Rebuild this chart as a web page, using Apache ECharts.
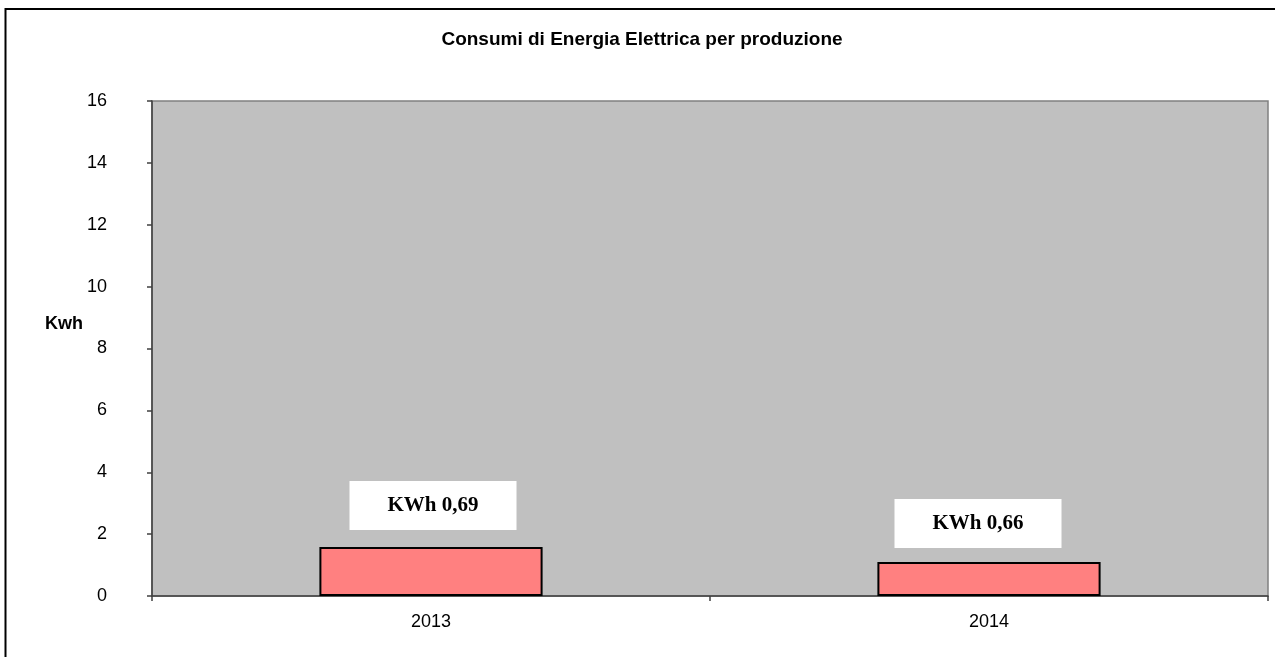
<!DOCTYPE html>
<html>
<head>
<meta charset="utf-8">
<script src="https://cdn.jsdelivr.net/npm/echarts@6/dist/echarts.min.js"></script>
<style>
  html, body { margin: 0; padding: 0; background: #fff; }
  #chart { width: 1275px; height: 657px; }
</style>
</head>
<body>
<div id="chart"></div>
<script>
const years = ['2013', '2014']
const consumi = [1.58, 1.1]
const etichette = ['KWh 0,69', 'KWh 0,66']
const labelOffsets = [[2, 0], [-11, 0]]
const labelDistances = [17, 14]

const sans = '"Liberation Sans", Arial, sans-serif'
const serif = '"Liberation Serif", "Times New Roman", serif'

const chart = echarts.init(document.getElementById('chart'))

chart.setOption({
  animation: false,
  title: {
    text: 'Consumi di Energia Elettrica per produzione',
    left: 637,
    textAlign: 'center',
    top: 25,
    textStyle: {
      fontFamily: sans,
      fontSize: 19,
      fontWeight: 'bold',
      color: '#000'
    }
  },
  graphic: [
    {
      type: 'rect',
      silent: true,
      shape: { x: 5.5, y: 9, width: 1400, height: 1000 },
      style: { fill: 'none', stroke: '#000', lineWidth: 2 }
    },
    {
      type: 'text',
      left: 45,
      top: 315,
      style: {
        text: 'Kwh',
        font: 'bold 18px ' + sans,
        fill: '#000'
      }
    }
  ],
  grid: {
    left: 152,
    top: 101,
    right: 7,
    bottom: 61,
    show: true,
    backgroundColor: '#C0C0C0',
    borderColor: '#808080',
    borderWidth: 1.5
  },
  xAxis: {
    type: 'category',
    data: years,
    axisLine: { lineStyle: { color: '#404040', width: 1.5 } },
    axisTick: { show: true, length: 5, lineStyle: { color: '#404040', width: 1.5 } },
    axisLabel: {
      margin: 17,
      fontFamily: sans,
      fontSize: 18,
      color: '#000'
    },
    splitLine: { show: false }
  },
  yAxis: {
    type: 'value',
    min: 0,
    max: 16,
    interval: 2,
    axisLine: { show: true, lineStyle: { color: '#404040', width: 1.5 } },
    axisTick: { show: true, length: 5, lineStyle: { color: '#404040', width: 1.5 } },
    axisLabel: {
      margin: 45,
      fontFamily: sans,
      fontSize: 18,
      color: '#000'
    },
    splitLine: { show: false }
  },
  series: [{
    type: 'bar',
    barWidth: '40%',
    data: consumi.map((v, i) => ({
      value: v,
      label: {
        formatter: etichette[i],
        offset: labelOffsets[i],
        distance: labelDistances[i]
      }
    })),
    itemStyle: {
      color: '#FF8080',
      borderColor: '#000',
      borderWidth: 2
    },
    label: {
      show: true,
      position: 'top',
      fontFamily: serif,
      fontSize: 21,
      fontWeight: 'bold',
      color: '#000',
      backgroundColor: '#fff',
      lineHeight: 21,
      padding: [14, 38, 14, 38]
    }
  }]
})
</script>
</body>
</html>
